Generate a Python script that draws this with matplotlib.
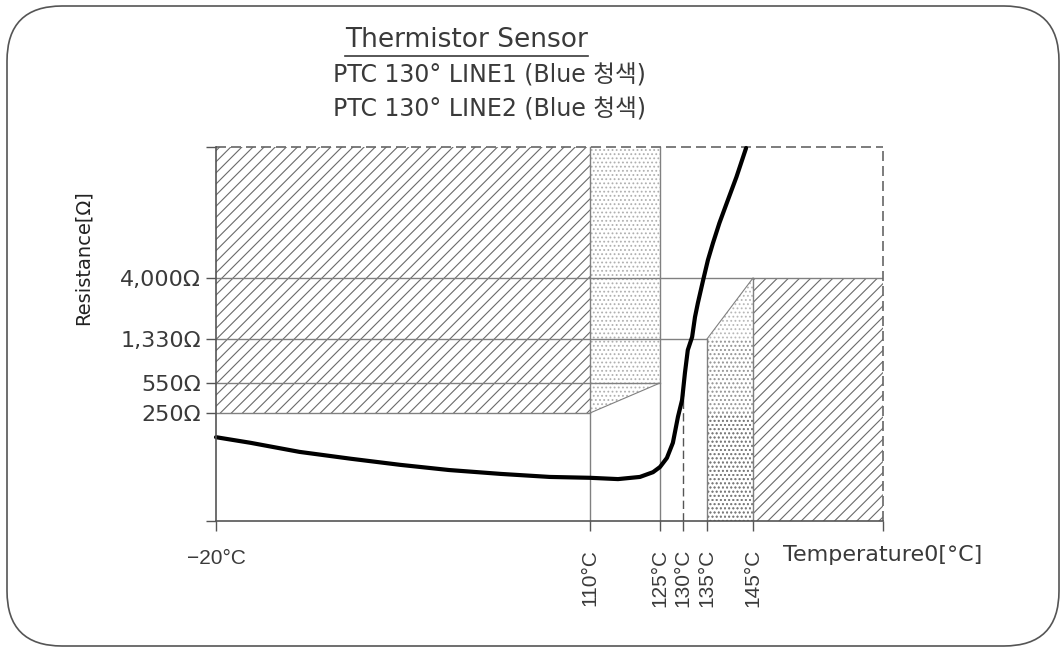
import matplotlib
matplotlib.use("Agg")
import matplotlib.pyplot as plt
import numpy as np
from matplotlib.patches import FancyBboxPatch

plt.rcParams['font.family'] = ['DejaVu Sans', 'Noto Sans CJK KR']
plt.rcParams['hatch.linewidth'] = 0.8

# PTC characteristic curve
curve_temp = [-20, -8, 9, 27, 44, 61, 79, 96, 110, 116, 120.7, 123.5, 125, 126.5,
              127.8, 128.9, 129.8, 130.4, 131.0, 131.9, 132.5, 133.1, 134.2, 135.2,
              136.3, 137.7, 139.3, 141.4, 143.5]
curve_res = [194, 181, 160, 144, 130, 118, 109, 102, 100, 97, 102, 113, 125, 146,
             181, 241, 380, 727, 1135, 1418, 2293, 2906, 3912, 4824,
             5603, 6519, 7435, 8626, 9954]

# ticks
temp_ticks = [-20, 110, 125, 130, 135, 145, 175]
temp_labels = ['\u221220°C', '110°C', '125°C', '130°C', '135°C', '145°C', '']
res_ticks = [0, 250, 550, 1330, 4000, 10000]
res_labels = ['', '250Ω', '550Ω', '1,330Ω', '4,000Ω', '']
t_min, t_max = -20, 175
r_min, r_max = 0, 10000

# spec zones
low_zone_temp = [-20, 110]
low_zone_floor = 250
trans_zone_temp = [110, 125]
trans_zone_floor = [250, 550]
trip_zone_temp = [135, 145]
trip_zone_ceil = [1330, 4000]
high_zone_temp = [145, 175]
high_zone_ceil = 4000

# reference lines
h_line_res = [4000, 1330, 550, 250]
h_line_end = [175, 135, 125, 110]
v_line_temp = [110, 125, 135, 145]
v_line_top = [10000, 10000, 1330, 4000]
nominal_temp = 130


def piecewise(xk, yk):
    xk = np.asarray(xk, float)
    yk = np.asarray(yk, float)
    lo = (yk[1] - yk[0]) / (xk[1] - xk[0])
    hi = (yk[-1] - yk[-2]) / (xk[-1] - xk[-2])

    def f(v):
        v = np.asarray(v, float)
        out = np.interp(v, xk, yk)
        out = np.where(v < xk[0], yk[0] + (v - xk[0]) * lo, out)
        out = np.where(v > xk[-1], yk[-1] + (v - xk[-1]) * hi, out)
        return out
    return f


# the drawing is schematic: axes are piecewise linear
x_knots = [-20, 110, 125, 130, 135, 145, 175]
x_pos = [0, 374, 444, 467, 491, 537, 667]
y_knots = [0, 250, 550, 1330, 4000, 10000]
y_pos = [0, 108, 138, 182, 243, 374]

W, H = 1061, 648
fig = plt.figure(figsize=(W / 100, H / 100), dpi=100)

# outer rounded frame
bg = fig.add_axes([0, 0, 1, 1], zorder=0)
bg.set_xlim(0, W)
bg.set_ylim(H, 0)
bg.axis('off')
bg.add_patch(FancyBboxPatch((7, 6), 1052, 640, boxstyle='round,pad=0,rounding_size=55',
                            facecolor='none', edgecolor='#555555', linewidth=1.2))

ax = fig.add_axes([216 / W, 1 - 521 / H, 667 / W, 374 / H], zorder=1)
ax.patch.set_alpha(0)
ax.set_xscale('function', functions=(piecewise(x_knots, x_pos), piecewise(x_pos, x_knots)))
ax.set_yscale('function', functions=(piecewise(y_knots, y_pos), piecewise(y_pos, y_knots)))
ax.set_xlim(t_min, t_max)
ax.set_ylim(r_min, r_max)

hatch_col = '#6a6a6a'
line_col = '#808080'

# zones
ax.fill_between(low_zone_temp, low_zone_floor, r_max, facecolor='none',
                edgecolor=hatch_col, hatch='///', linewidth=0)
ax.fill_between(trans_zone_temp, trans_zone_floor, r_max, facecolor='none',
                edgecolor='#b0b0b0', hatch='....', linewidth=0)
# stipple gets darker toward the bottom
ax.fill_between(trip_zone_temp, r_min, trip_zone_ceil, facecolor='none',
                edgecolor='#b8b8b8', hatch='....', linewidth=0)
ax.fill_between(trip_zone_temp, r_min, [1330, 1330], facecolor='none',
                edgecolor='#9a9a9a', hatch='....', linewidth=0)
ax.fill_between(trip_zone_temp, r_min, [250, 250], facecolor='none',
                edgecolor='#7a7a7a', hatch='....', linewidth=0)
ax.fill_between(high_zone_temp, r_min, high_zone_ceil, facecolor='none',
                edgecolor=hatch_col, hatch='///', linewidth=0)

# reference lines
for r, t_end in zip(h_line_res, h_line_end):
    ax.plot([t_min, t_end], [r, r], color=line_col, lw=1.0)
for t, top in zip(v_line_temp, v_line_top):
    ax.plot([t, t], [r_min, top], color=line_col, lw=1.0, clip_on=False)
ax.plot(trans_zone_temp, trans_zone_floor, color=line_col, lw=0.8)
ax.plot(trip_zone_temp, trip_zone_ceil, color=line_col, lw=0.8)
ax.plot([nominal_temp, nominal_temp], [r_min, np.interp(nominal_temp, curve_temp, curve_res)],
        color='#555555', lw=1.0, dashes=(6, 3))
ax.plot([t_min, t_max], [r_max, r_max], color='#666666', lw=1.2, dashes=(6, 3), clip_on=False)
ax.plot([t_max, t_max], [r_min, r_max], color='#666666', lw=1.2, dashes=(6, 3), clip_on=False)

# curve
ax.plot(curve_temp, curve_res, color='black', lw=3.0, solid_capstyle='round',
        solid_joinstyle='round', clip_on=False)

# axes styling
for s in ['top', 'right']:
    ax.spines[s].set_visible(False)
for s in ['left', 'bottom']:
    ax.spines[s].set_color('#555555')
    ax.spines[s].set_linewidth(1.2)
ax.minorticks_off()
ax.set_xticks(temp_ticks)
ax.set_xticklabels(temp_labels, family=['Liberation Sans', 'DejaVu Sans'], fontsize=15, color='#3a3a3a')
ax.set_yticks(res_ticks)
ax.set_yticklabels(res_labels, fontsize=16, color='#3a3a3a')
ax.tick_params(axis='both', direction='out', length=7, width=1.0, color='#555555')
ax.tick_params(axis='x', pad=13)
ax.tick_params(axis='y', pad=4)
for lbl in ax.get_xticklabels()[1:]:
    lbl.set_rotation(90)

# texts
fig.text(83 / W, 1 - 258 / H, 'Resistance[Ω]', rotation=90, ha='center', va='center',
         fontsize=14, color='#222222')
fig.text(783 / W, 1 - 555 / H, 'Temperature0[°C]', ha='left', va='center',
         fontsize=16, color='#3a3a3a')
title = fig.text(345 / W, 1 - 47 / H, 'Thermistor Sensor', ha='left', va='baseline',
                 fontsize=19, color='#3a3a3a')
fig.text(333 / W, 1 - 83 / H, 'PTC 130° LINE1 (Blue 청색)', ha='left', va='baseline',
         fontsize=17, color='#3a3a3a')
fig.text(333 / W, 1 - 117 / H, 'PTC 130° LINE2 (Blue 청색)', ha='left', va='baseline',
         fontsize=17, color='#3a3a3a')

# underline under the title
fig.canvas.draw()
bb = title.get_window_extent()
uy = H - bb.y0 + 3
bg.plot([bb.x0, bb.x1], [uy, uy], color='#3a3a3a', lw=1.2)

fig.savefig('out.png', dpi=100)
